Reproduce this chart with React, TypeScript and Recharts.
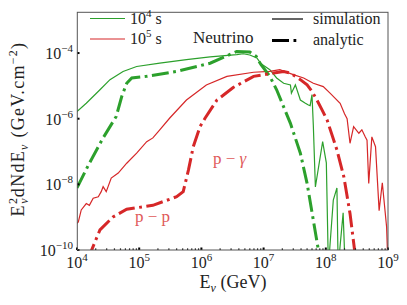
import React from "react";
import { LineChart, Line, XAxis, YAxis } from "recharts";

const xTicks = [1e4, 1e5, 1e6, 1e7, 1e8, 1e9];
const yTicks = [1e-10, 1e-8, 1e-6, 1e-4];
const xMinorSteps = [2, 3, 4, 5, 6, 7, 8, 9];

const GREEN = "#2ca02c";
const RED = "#d62728";
const FONT = "Liberation Serif, DejaVu Serif, serif";
const serif = { fontFamily: FONT };

// 10^4 s, simulation
const sim4Energy = [
  1e4, 1.41e4, 2.34e4, 3.39e4, 5.5e4, 9.1e4, 2.14e5, 5.75e5, 1.38e6, 3.7e6,
  4.7e6, 6.0e6, 7.8e6, 9.1e6, 1.26e7, 1.62e7, 2.1e7, 2.7e7, 2.8e7, 3.24e7,
  3.9e7, 4.7e7, 5.25e7, 5.6e7, 6.0e7, 6.3e7, 6.8e7, 8.9e7, 1.02e8, 1.1e8,
  1.32e8, 1.51e8, 1.58e8, 1.9e8, 2.04e8,
];
const sim4Flux = [
  1.66e-6, 2.95e-6, 7.6e-6, 1.55e-5, 2.75e-5, 3.9e-5, 4.9e-5, 6.3e-5, 7.6e-5, 8.9e-5,
  9.5e-5, 8.7e-5, 7.1e-5, 4.7e-5, 3.1e-5, 1.74e-5, 1.2e-5, 1.07e-5, 6.0e-6, 1.07e-5,
  3.7e-6, 2.95e-6, 2.6e-6, 2.5e-6, 5.4e-6, 6.3e-7, 8.3e-9, 2.0e-7, 4.5e-8, 3e-11,
  3.3e-9, 7.8e-9, 3e-11, 1.35e-9, 3e-11,
];

// 10^5 s, simulation
const sim5Energy = [
  1e4, 1.05e4, 1.17e4, 1.41e4, 1.58e4, 1.82e4, 2.2e4, 2.45e4, 2.63e4, 2.95e4,
  3.55e4, 4.6e4, 6.3e4, 9.1e4, 1.32e5, 1.66e5, 2.14e5, 3.1e5, 5.75e5, 1.2e6,
  2.57e6, 6.9e6, 1.26e7, 1.82e7, 3.0e7, 4.4e7, 6.3e7, 9.1e7, 1.17e8, 1.7e8,
  2.0e8, 2.2e8, 2.45e8, 2.8e8, 3.4e8, 3.8e8, 4.3e8, 4.6e8, 4.9e8, 5.5e8,
  6.3e8, 7.2e8, 8.1e8, 9.5e8, 1e9,
];
const sim5Flux = [
  6.5e-10, 7.2e-10, 1.66e-9, 2.6e-9, 2.3e-9, 3.8e-9, 4.2e-9, 6.0e-9, 8.5e-9, 6.0e-9,
  1.55e-8, 2.2e-8, 4.4e-8, 8.9e-8, 2.0e-7, 2.6e-7, 4.6e-7, 1.05e-6, 3.7e-6, 1.07e-5,
  1.95e-5, 2.6e-5, 2.75e-5, 3.1e-5, 2.2e-5, 1.74e-5, 1.2e-5, 9.5e-6, 6.0e-6, 2.95e-6,
  1.41e-6, 1.0e-6, 1.78e-7, 5.75e-7, 3.6e-7, 4.6e-7, 2.8e-7, 2.2e-7, 1.07e-8, 2.8e-7,
  1.4e-7, 1.58e-9, 1.12e-8, 5e-10, 3e-11,
];

// 10^4 s, analytic
const ana4Energy = [
  1e4, 1.58e4, 2.63e4, 4.27e4, 5.25e4, 6.3e4, 7.6e4, 1.32e5, 4.0e5, 1.38e6,
  3.7e6, 6.0e6, 7.6e6, 9.1e6, 1.26e7, 1.62e7, 2.1e7, 2.7e7, 3.9e7, 5.0e7,
  6.3e7, 7.6e7, 8.3e7,
];
const ana4Flux = [
  7.8e-9, 4.4e-8, 2.6e-7, 1.17e-6, 4.8e-6, 1.2e-5, 1.74e-5, 1.95e-5, 2.75e-5, 4.9e-5,
  1.12e-4, 1.07e-4, 7.9e-5, 4.4e-5, 1.95e-5, 7.6e-6, 2.3e-6, 7.2e-7, 8.9e-8, 1.07e-8,
  8.1e-10, 1e-10, 3e-11,
];

// 10^5 s, analytic (p-p then p-gamma)
const ana5Energy = [
  1.48e4, 2.34e4, 3.8e4, 6.3e4, 1.66e5, 4.0e5, 5.1e5, 6.2e5, 7.4e5, 9.5e5,
  1.15e6, 1.78e6, 3.24e6, 6.9e6, 1.45e7, 2.1e7, 2.7e7, 3.9e7, 5.0e7, 6.0e7,
  7.2e7, 8.7e7, 1.05e8, 1.51e8, 1.95e8, 2.45e8, 2.9e8, 3.0e8,
];
const ana5Flux = [
  5e-11, 4.1e-10, 1.02e-9, 1.74e-9, 2.3e-9, 4.2e-9, 6.0e-9, 2.75e-8, 1.4e-7, 5.75e-7,
  1.05e-6, 3.7e-6, 8.9e-6, 1.95e-5, 2.45e-5, 2.75e-5, 2.45e-5, 1.55e-5, 1.07e-5, 6.8e-6,
  3.7e-6, 1.86e-6, 9.1e-7, 1.12e-7, 1.7e-8, 1.3e-9, 1e-10, 4e-11,
];

const zip = (xs: number[], ys: number[]) => xs.map((x, i) => ({ x, y: ys[i] }));

const xAllTicks = [
  ...xTicks,
  ...xTicks.slice(0, -1).flatMap((d) => xMinorSteps.map((k) => k * d)),
].sort((a, b) => a - b);

function isMajor(v: number) {
  const e = Math.log10(v);
  return Math.abs(e - Math.round(e)) < 1e-6;
}

function XTick(props: any) {
  const { x, y, payload } = props;
  const v = payload.value;
  if (!isMajor(v)) {
    return <rect x={x - 0.6} y={y - 1.6} width={1.2} height={1.6} fill="#111" />;
  }
  const exp = Math.round(Math.log10(v));
  return (
    <g>
      <rect x={x - 1} y={y - 2.5} width={2} height={2.5} fill="#000" />
      <text x={x} y={y + 18} textAnchor="middle" fontSize={16} style={serif} fill="#222">
        10<tspan dy={-7} fontSize={11}>{exp}</tspan>
      </text>
    </g>
  );
}

function YTick(props: any) {
  const { x, y, payload } = props;
  const exp = Math.round(Math.log10(payload.value));
  return (
    <g>
      <rect x={x} y={y - 1} width={2.5} height={2} fill="#000" />
      <text x={x - 4} y={y + 6} textAnchor="end" fontSize={16} style={serif} fill="#222">
        10<tspan dy={-7} fontSize={11}>{"\u2212" + Math.abs(exp)}</tspan>
      </text>
    </g>
  );
}

const DASHDOT = "17 4.5 2.8 4.5";

export default function App() {
  return (
    <div style={{ position: "absolute", left: 0, top: 0, width: 407, height: 305, background: "#fff" }}>
      <LineChart
        width={407}
        height={305}
        margin={{ top: 12, right: 19, left: 0, bottom: 0 }}
      >
        <XAxis
          dataKey="x"
          type="number"
          scale="log"
          domain={[1e4, 1e9]}
          ticks={xAllTicks}
          interval={0}
          tick={<XTick />}
          tickSize={0}
          tickMargin={0}
          tickLine={false}
          axisLine={false}
          height={55}
          allowDataOverflow
        />
        <YAxis
          dataKey="y"
          type="number"
          scale="log"
          domain={[1e-10, 1.78e-3]}
          ticks={yTicks}
          interval={0}
          tick={<YTick />}
          tickSize={0}
          tickMargin={0}
          tickLine={false}
          axisLine={false}
          width={77}
          allowDataOverflow
        />
        <Line data={zip(sim4Energy, sim4Flux)} dataKey="y" type="linear" stroke={GREEN} strokeWidth={1.2} dot={false} isAnimationActive={false} />
        <Line data={zip(sim5Energy, sim5Flux)} dataKey="y" type="linear" stroke={RED} strokeWidth={1.2} dot={false} isAnimationActive={false} />
        <Line data={zip(ana4Energy, ana4Flux)} dataKey="y" type="linear" stroke={GREEN} strokeWidth={3} strokeDasharray={DASHDOT} dot={false} isAnimationActive={false} />
        <Line data={zip(ana5Energy, ana5Flux)} dataKey="y" type="linear" stroke={RED} strokeWidth={3} strokeDasharray={DASHDOT} dot={false} isAnimationActive={false} />
      </LineChart>
      <svg
        width={407}
        height={305}
        style={{ position: "absolute", left: 0, top: 0, pointerEvents: "none", fontFamily: FONT }}
      >
        <rect x={77.3} y={12.3} width={310.7} height={237.7} fill="none" stroke="#555" strokeWidth={1} />

        {/* legend */}
        <line x1={90} y1={18.5} x2={125} y2={18.5} stroke={GREEN} strokeWidth={1.2} />
        <text x={130} y={24} fontSize={16} fill="#222" style={serif}>
          10<tspan dy={-7} fontSize={11}>4</tspan><tspan dy={7}> s</tspan>
        </text>
        <line x1={90} y1={39} x2={125} y2={39} stroke={RED} strokeWidth={1.2} />
        <text x={130} y={44} fontSize={16} fill="#222" style={serif}>
          10<tspan dy={-7} fontSize={11}>5</tspan><tspan dy={7}> s</tspan>
        </text>
        <text x={193} y={43} fontSize={17} fill="#222" style={serif}>Neutrino</text>
        <line x1={272} y1={19} x2={303} y2={19} stroke="#000" strokeWidth={1.2} />
        <text x={313} y={24} fontSize={16} fill="#222" style={serif}>simulation</text>
        <line x1={272} y1={40.5} x2={300} y2={40.5} stroke="#000" strokeWidth={3} strokeDasharray={DASHDOT} />
        <text x={313} y={45} fontSize={16} fill="#222" style={serif}>analytic</text>

        {/* annotations */}
        <text x={213} y={164} fontSize={17} fill="#e05a5a" style={serif}>
          p {"\u2212"} <tspan fontStyle="italic">γ</tspan>
        </text>
        <text x={135} y={222} fontSize={17} fill="#e05a5a" style={serif}>
          p {"\u2212"} p
        </text>

        {/* axis labels */}
        <text x={233} y={288} textAnchor="middle" fontSize={18} fill="#222" style={serif}>
          E<tspan dy={4} fontSize={12} fontStyle="italic">ν</tspan>
          <tspan dy={-4}> (GeV)</tspan>
        </text>
        <text
          transform="translate(24,129) rotate(-90)"
          textAnchor="middle"
          fontSize={18}
          fill="#222"
          style={{ ...serif, letterSpacing: 1.3 }}
        >
          E<tspan dy={-7} fontSize={12}>2</tspan>
          <tspan dx={-7} dy={11} fontSize={12} fontStyle="italic">ν</tspan>
          <tspan dy={-4}>dNdE</tspan>
          <tspan dy={4} fontSize={12} fontStyle="italic">ν</tspan>
          <tspan dy={-4}> (GeV.cm</tspan>
          <tspan dy={-7} fontSize={12}>{"\u22122"}</tspan>
          <tspan dy={7}>)</tspan>
        </text>
      </svg>
    </div>
  );
}
